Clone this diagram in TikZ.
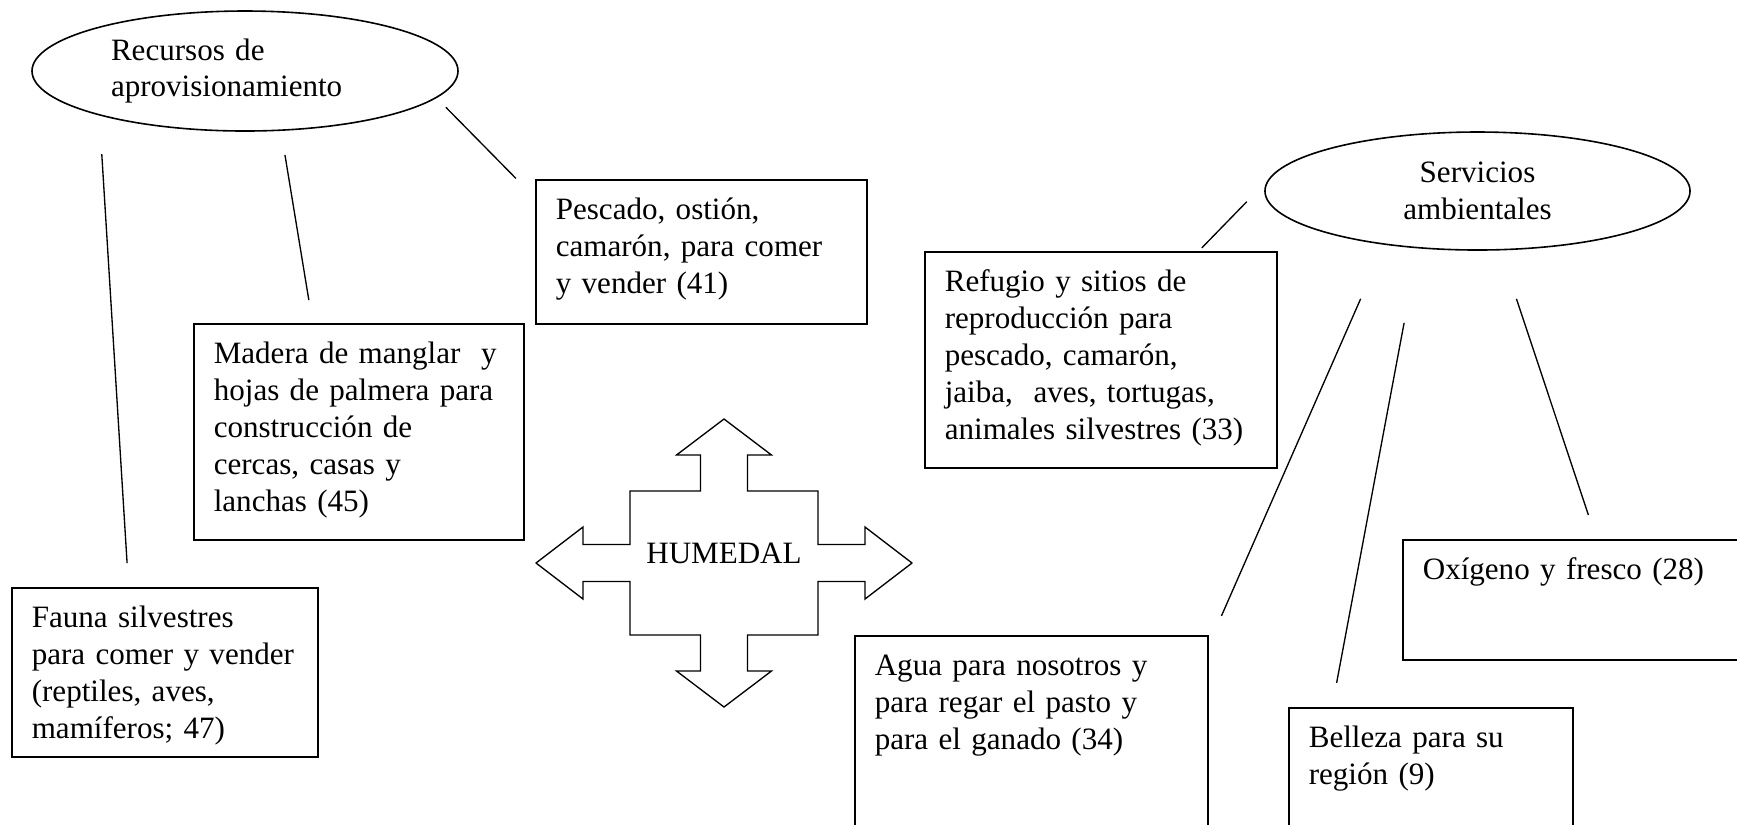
\documentclass[tikz,border=0pt]{standalone}
\usepackage{fontspec}
\setmainfont{Liberation Serif}
\usetikzlibrary{shapes.geometric}

\begin{document}
\begin{tikzpicture}
    [%%%%%%%%%%%%%%%%%%%%%%%%%%%%%%
        x=0.375pt,y=-0.375pt,
        every node/.style={font=\fontsize{11.65}{13.8}\selectfont},
        box/.style={rectangle,draw=black,line width=0.6pt,anchor=north west,align=left,
            inner xsep=7.5pt,inner ysep=0pt,text height=15pt},
        oval/.style={ellipse,draw=black,line width=0.6pt,inner sep=0pt},
        link/.style={draw=black,line width=0.5pt}
    ]%%%%%%%%%%%%%%%%%%%%%%%%%%%%%%

\useasboundingbox (0,0) rectangle (1737,824);
\clip (0,0) rectangle (1737,824);

\node[oval,minimum width=159.75pt,minimum height=45pt,text width=100.5pt,align=left] (rec) at (245,71) {Recursos de\\aprovisionamiento};
\node[oval,minimum width=159.4pt,minimum height=44.25pt,align=center] (serv) at (1477.5,191) {Servicios\\ambientales};

\node[box,text width=109.1pt,text depth=39pt] (pescado) at (535,179) {Pescado, ostión,\\camarón, para comer\\y vender (41)};
\node[box,text width=108.75pt,text depth=66pt] (madera) at (193,323) {Madera de manglar \ y\\hojas de palmera para\\construcción de\\cercas, casas y\\lanchas (45)};
\node[box,text width=99.75pt,text depth=48.4pt] (fauna) at (11,587) {Fauna silvestres\\para comer y vender\\(reptiles, aves,\\mamíferos; 47)};
\node[box,text width=117pt,text depth=66pt] (refugio) at (924,251) {Refugio y sitios de\\reproducción para\\pescado, camarón,\\jaiba, \ aves, tortugas,\\animales silvestres (33)};
\node[box,text width=117.4pt,text depth=75pt] (agua) at (854,635) {Agua para nosotros y\\para regar el pasto y\\para el ganado (34)};
\node[box,text width=91.5pt,text depth=48.75pt] (belleza) at (1288,707) {Belleza para su\\región (9)};
\node[box,text width=113.6pt,text depth=30pt] (oxigeno) at (1402,539) {Oxígeno y fresco (28)};

% recursos
\draw[link,shorten <=14.5pt,shorten >=9pt] (rec.197) -- (fauna.113.4);
\draw[link,shorten <=9.1pt,shorten >=8.7pt] (rec.301.5) -- (madera.113.25);
\draw[link,shorten <=4.9pt,shorten >=10.2pt] (rec.352) -- (pescado.162.7);

% servicios
\draw[link,shorten <=11.3pt,shorten >=1.6pt] (serv.177.6) -- (refugio.48.7);
\draw[link,shorten <=22.1pt,shorten >=11.9pt] (serv.210.1) -- (agua.32.9);
\draw[link,shorten <=28.4pt,shorten >=9.2pt] (serv.224.1) -- (belleza.139.7);
\draw[link,shorten <=19.1pt,shorten >=9.5pt] (serv.291.1) -- (oxigeno.70.4);

% humedal
\node (humedal) at (724,553) {HUMEDAL};
\foreach \sx/\sy in {1/1,-1/1,1/-1,-1/-1}
    \draw[line width=0.5pt,line cap=round,shift={(724,563)},xscale=\sx,yscale=\sy]
        (0,-144) -- (47.5,-108) -- (23.5,-108) -- (23.5,-72) -- (94,-72) -- (94,-18.5)
        -- (141,-18.5) -- (141,-36) -- (188,0);

\end{tikzpicture}
\end{document}
